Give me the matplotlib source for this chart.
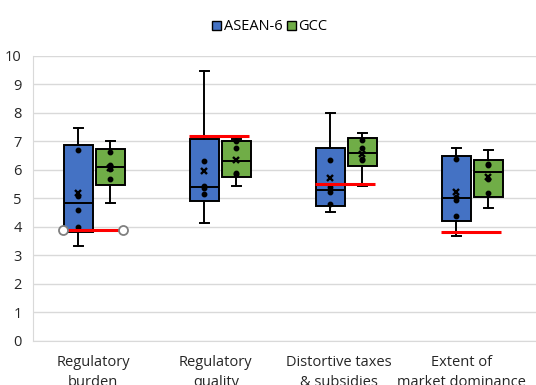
import numpy as np
import matplotlib
matplotlib.use("Agg")
import matplotlib.pyplot as plt
from matplotlib.patches import Patch

categories = ["Regulatory\nburden", "Regulatory\nquality", "Distortive taxes\n& subsidies", "Extent of\nmarket dominance"]
asean6 = [
    [3.33, 4.00, 4.59, 5.08, 6.69, 7.47],
    [4.14, 5.14, 5.36, 5.42, 6.31, 9.46],
    [4.53, 4.79, 5.21, 5.41, 6.34, 8.00],
    [3.69, 4.39, 4.94, 5.06, 6.38, 6.78],
]
gcc = [
    [4.85, 5.67, 6.02, 6.16, 6.61, 7.02],
    [5.44, 5.84, 5.89, 6.75, 7.00, 7.08],
    [5.43, 6.36, 6.38, 6.77, 7.06, 7.30],
    [4.65, 5.18, 5.67, 6.17, 6.22, 6.69],
]
benchmark = [3.89, 7.19, 5.50, 3.83]
yticks = list(range(0, 11))

BLUE = "#4472C4"
GREEN = "#70AD47"


def q_exc(vals, p):
    v = np.sort(np.asarray(vals, float))
    n = len(v)
    pos = p * (n + 1)
    lo = int(np.floor(pos))
    frac = pos - lo
    lo = min(max(lo, 1), n)
    hi = min(lo + 1, n)
    return v[lo - 1] + frac * (v[hi - 1] - v[lo - 1])


def stats(vals):
    v = np.asarray(vals, float)
    return dict(med=q_exc(v, 0.5), q1=q_exc(v, 0.25), q3=q_exc(v, 0.75),
                whislo=v.min(), whishi=v.max(), mean=v.mean(), fliers=[])


fig = plt.figure(figsize=(5.36, 3.85), dpi=100)
ax = fig.add_axes([33 / 536, 44 / 385, 1 - 33 / 536, (341 - 55.7) / 385])

x = np.arange(len(categories))
off = 0.127
bw = 0.234

common = dict(widths=bw, patch_artist=True, showmeans=False, showfliers=False,
              capwidths=0.07,
              medianprops=dict(color="black", lw=1.4),
              whiskerprops=dict(color="black", lw=1.4),
              capprops=dict(color="black", lw=1.4))

for data, col, sgn in [(asean6, BLUE, -1), (gcc, GREEN, 1)]:
    st = [stats(d) for d in data]
    pos = x + sgn * off
    ax.bxp(st, positions=pos, boxprops=dict(facecolor=col, edgecolor="black", lw=1.4), **common)
    for p, d, s in zip(pos, data, st):
        d = np.sort(np.asarray(d))
        inner = d[1:-1]
        ax.plot(np.full(len(inner), p), inner, "o", color="black", ms=3.2, zorder=5)
        ax.plot([p], [s["mean"]], "x", color="black", ms=4.5, mew=1.7, zorder=6)

for i, b in enumerate(benchmark):
    ax.plot([x[i] - 0.246, x[i] + 0.23], [b, b], color="#FF0000", lw=2.2, zorder=7,
            solid_capstyle="butt")
ax.plot([x[0] - 0.246, x[0] + 0.23], [benchmark[0], benchmark[0]], "o", ms=6.5,
        mfc="white", mec="#808080", mew=1.3, zorder=8, lw=0)

ax.set_xlim(-0.488, 3.504)
ax.set_ylim(0, 10)
ax.set_yticks(yticks)
ax.set_yticklabels([str(t) for t in yticks])
ax.set_xticks(x - 0.025 * x - 0.012)
ax.set_xticklabels(categories, linespacing=1.5)
ax.grid(axis="y", color="#D9D9D9", lw=1.0)
ax.set_axisbelow(True)
for s in ["top", "right"]:
    ax.spines[s].set_visible(False)
ax.spines["left"].set_color("#D9D9D9")
ax.spines["bottom"].set_color("#D9D9D9")
ax.tick_params(axis="both", length=0, labelsize=10.5, colors="#262626")
ax.tick_params(axis="y", pad=8)
ax.tick_params(axis="x", pad=10)
for lab in ax.get_xticklabels() + ax.get_yticklabels():
    lab.set_fontfamily("Open Sans")

handles = [Patch(facecolor=BLUE, edgecolor="black", lw=1.0),
           Patch(facecolor=GREEN, edgecolor="black", lw=1.0)]
fig.legend(handles, ["ASEAN-6", "GCC"], loc="center", bbox_to_anchor=(270 / 536, 1 - 27 / 385),
           ncol=2, frameon=False, handlelength=0.6, handleheight=0.6, handletextpad=0.2,
           columnspacing=0.3, prop={"family": "Open Sans", "size": 10.5})

fig.savefig("out.png", dpi=100)
